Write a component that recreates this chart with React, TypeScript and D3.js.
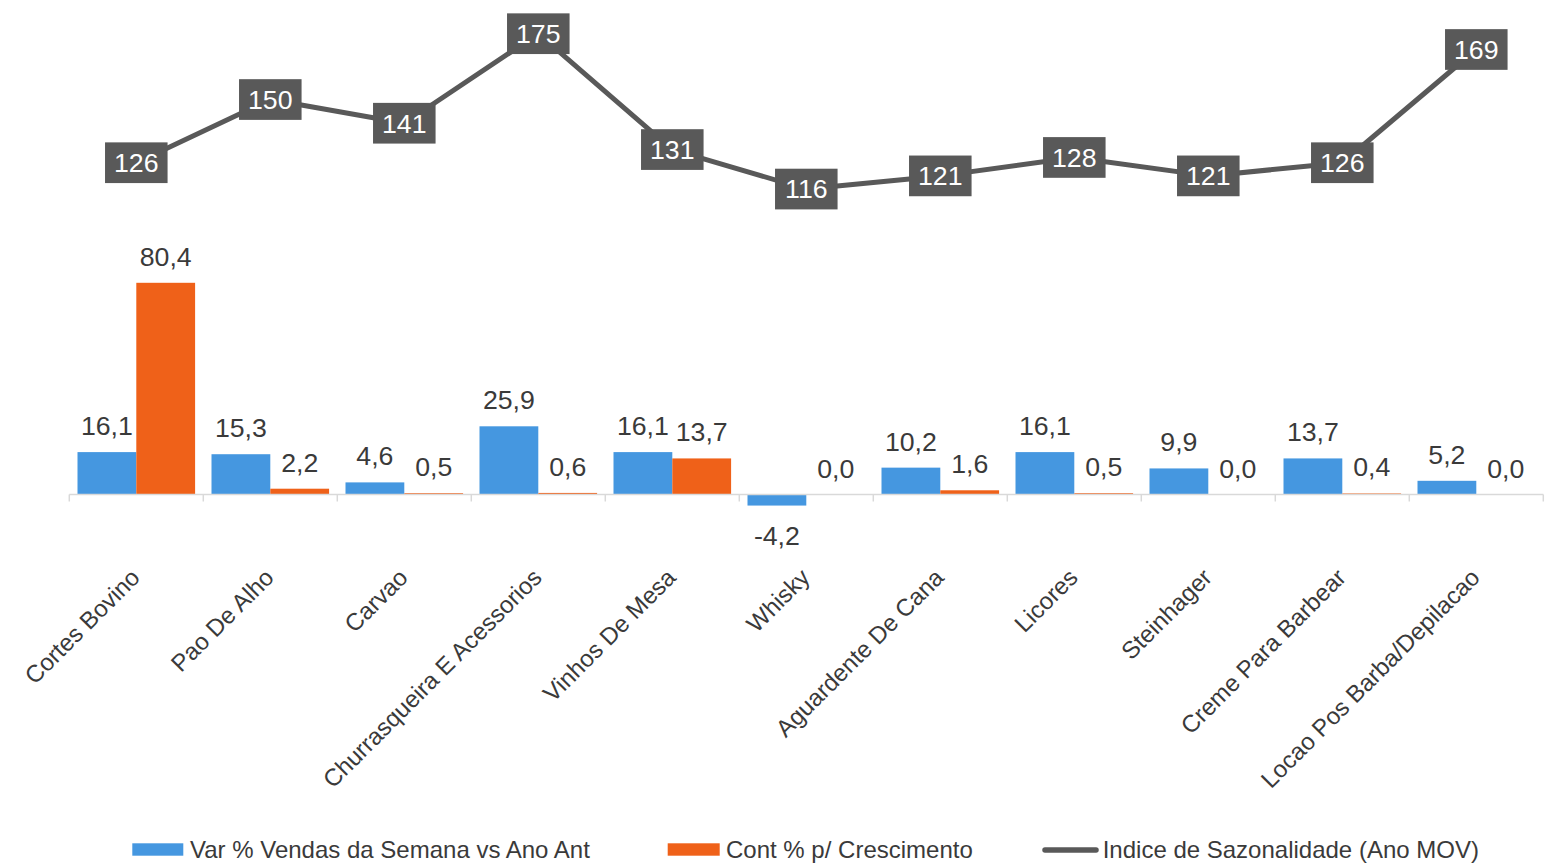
import React from "react";
import * as d3 from "d3";

const categories = [
  "Cortes Bovino",
  "Pao De Alho",
  "Carvao",
  "Churrasqueira E Acessorios",
  "Vinhos De Mesa",
  "Whisky",
  "Aguardente De Cana",
  "Licores",
  "Steinhager",
  "Creme Para Barbear",
  "Locao Pos Barba/Depilacao",
];
const varVendas = [16.1, 15.3, 4.6, 25.9, 16.1, -4.2, 10.2, 16.1, 9.9, 13.7, 5.2];
const contCrescimento = [80.4, 2.2, 0.5, 0.6, 13.7, 0.0, 1.6, 0.5, 0.0, 0.4, 0.0];
const indiceSazonalidade = [126, 150, 141, 175, 131, 116, 121, 128, 121, 126, 169];

const seriesNames = [
  "Var % Vendas da Semana vs Ano Ant",
  "Cont % p/ Crescimento",
  "Indice de Sazonalidade (Ano MOV)",
];

const W = 1562;
const H = 866;
const FONT = "'Liberation Sans', Arial, Helvetica, sans-serif";
const BLUE = "#4597e0";
const ORANGE = "#ef6119";
const GREY = "#595959";
const TEXT = "#3a3a3a";

const loc = d3.formatLocale({
  decimal: ",",
  thousands: ".",
  grouping: [3],
  currency: ["", ""],
  minus: "-",
});
const fmt1 = loc.format(".1f");
const fmt0 = loc.format(".0f");

export default function App() {
  const x = d3
    .scaleBand<string>()
    .domain(categories)
    .range([69.3, 1543.3])
    .paddingInner(0.1224)
    .paddingOuter(0.0612);
  const sub = d3
    .scaleBand<string>()
    .domain(["a", "b"])
    .range([0, x.bandwidth()]);
  const y = d3.scaleLinear().domain([0, 175]).range([494.5, 33.7]);
  const y0 = y(0);
  const step = x.step();
  const axisStart = 69.3;
  const axisEnd = axisStart + step * categories.length;
  const cx = (c: string) => (x(c) as number) + x.bandwidth() / 2;

  const line = d3
    .line<number>()
    .x((_, i) => cx(categories[i]))
    .y((v) => y(v));

  const bars = (vals: number[], key: string, color: string) =>
    vals.map((v, i) => {
      const c = categories[i];
      const bx = (x(c) as number) + (sub(key) as number);
      const top = Math.min(y(v), y0);
      const h = Math.abs(y(v) - y0);
      return (
        <rect key={key + i} x={bx} y={top} width={sub.bandwidth()} height={h} fill={color} />
      );
    });

  const barLabels = (vals: number[], key: string) =>
    vals.map((v, i) => {
      const c = categories[i];
      const bx = (x(c) as number) + (sub(key) as number) + sub.bandwidth() / 2;
      const ly = v >= 0 ? y(v) - 17 : y(v) + 39;
      return (
        <text
          key={"l" + key + i}
          x={bx}
          y={ly}
          textAnchor="middle"
          fontSize={26.7}
          fill={TEXT}
        >
          {fmt1(v)}
        </text>
      );
    });

  const ticks = d3.range(categories.length + 1).map((i) => axisStart + i * step);

  return (
    <svg
      width={W}
      height={H}
      style={{ position: "absolute", left: 0, top: 0, background: "#fff" }}
      fontFamily={FONT}
    >
      <rect x={0} y={0} width={W} height={H} fill="#fff" />
      {bars(varVendas, "a", BLUE)}
      {bars(contCrescimento, "b", ORANGE)}
      <line x1={axisStart} x2={axisEnd} y1={y0} y2={y0} stroke="#d9d9d9" strokeWidth={1.5} />
      {ticks.map((t, i) => (
        <line key={"t" + i} x1={t} x2={t} y1={y0} y2={y0 + 7} stroke="#d9d9d9" strokeWidth={1.5} />
      ))}
      {barLabels(varVendas, "a")}
      {barLabels(contCrescimento, "b")}
      {categories.map((c, i) => (
        <text
          key={"x" + i}
          transform={`translate(${cx(c) + 5},${579}) rotate(-45)`}
          textAnchor="end"
          fontSize={24}
          fill={TEXT}
        >
          {c}
        </text>
      ))}
      <path
        d={line(indiceSazonalidade) || ""}
        fill="none"
        stroke={GREY}
        strokeWidth={5}
        strokeLinejoin="round"
      />
      {indiceSazonalidade.map((v, i) => {
        const px = cx(categories[i]);
        const py = y(v);
        const label = fmt0(v);
        const tw = label.length * 0.556 * 26.7;
        const bw = tw + 18;
        const bh = 40.7;
        return (
          <g key={"p" + i}>
            <rect x={px - bw / 2} y={py - bh / 2} width={bw} height={bh} fill={GREY} />
            <text x={px} y={py} dy="0.35em" textAnchor="middle" fontSize={26.7} fill="#fff">
              {label}
            </text>
          </g>
        );
      })}
      {/* Legend */}
      <rect x={132.3} y={843.3} width={51} height={12.4} fill={BLUE} />
      <text x={190} y={858} fontSize={24} fill={TEXT}>
        {seriesNames[0]}
      </text>
      <rect x={667.7} y={843.3} width={52} height={12.4} fill={ORANGE} />
      <text x={726} y={858} fontSize={24} fill={TEXT}>
        {seriesNames[1]}
      </text>
      <line x1={1045} x2={1096} y1={850} y2={850} stroke={GREY} strokeWidth={5.5} strokeLinecap="round" />
      <text x={1102.7} y={858} fontSize={24} fill={TEXT}>
        {seriesNames[2]}
      </text>
    </svg>
  );
}
